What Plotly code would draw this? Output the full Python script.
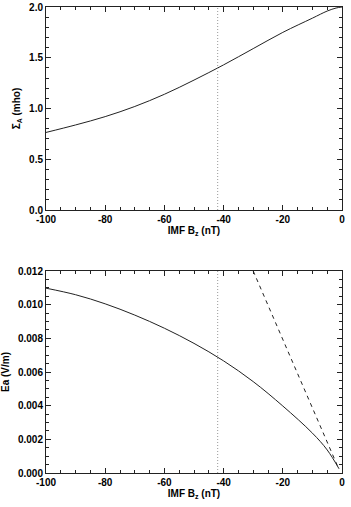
import plotly.graph_objects as go

# Data
bz = [-100, -90, -80, -70, -60, -50, -40, -30, -20, -10, -5, -2, 0]
sigma_a = [0.764, 0.838, 0.92, 1.02, 1.14, 1.28, 1.43, 1.59, 1.75, 1.89, 1.96, 1.99, 2.0]

bz_e = [-100, -90, -80, -70, -60, -50, -40, -30, -20, -10, -5, -1]
ea = [0.01098, 0.01059, 0.01005, 0.00938, 0.00860, 0.00770, 0.00666, 0.00543, 0.00398, 0.00237, 0.00137, 0.00025]

bz_dash = [-30, -20, -10, -1.2]
ea_dash = [0.01200, 0.00793, 0.00387, 0.00029]

bz_mark = -42

x_ticks = [-100, -80, -60, -40, -20, 0]
x_ticktext = ["-100", "-80", "-60", "-40", "-20", "0"]
y1_ticks = [0.0, 0.5, 1.0, 1.5, 2.0]
y1_ticktext = ["0.0", "0.5", "1.0", "1.5", "2.0"]
y2_ticks = [0.0, 0.002, 0.004, 0.006, 0.008, 0.010, 0.012]
y2_ticktext = ["0.000", "0.002", "0.004", "0.006", "0.008", "0.010", "0.012"]

BLACK = "#222222"
FAM = "Liberation Sans, Arial, sans-serif"
font_tick = dict(family=FAM, size=10, color="black")
title_font = dict(family=FAM, size=10, color="black")


def bold(lst):
    return ["<b>%s</b>" % s for s in lst]


fig = go.Figure()
fig.add_trace(go.Scatter(x=bz, y=sigma_a, mode="lines", line=dict(color=BLACK, width=1, shape="spline"),
                         xaxis="x", yaxis="y", showlegend=False))
fig.add_trace(go.Scatter(x=[bz_mark, bz_mark], y=[0, 2], mode="lines",
                         line=dict(color="#999999", width=1, dash="1px,2px"),
                         xaxis="x", yaxis="y", showlegend=False))
fig.add_trace(go.Scatter(x=bz_e, y=ea, mode="lines", line=dict(color=BLACK, width=1, shape="spline"),
                         xaxis="x2", yaxis="y2", showlegend=False))
fig.add_trace(go.Scatter(x=bz_dash, y=ea_dash, mode="lines", line=dict(color=BLACK, width=1, dash="4px,4px"),
                         xaxis="x2", yaxis="y2", showlegend=False))
fig.add_trace(go.Scatter(x=[bz_mark, bz_mark], y=[0, 0.012], mode="lines",
                         line=dict(color="#999999", width=1, dash="1px,2px"),
                         xaxis="x2", yaxis="y2", showlegend=False))

axis_common = dict(
    showline=True, linecolor=BLACK, linewidth=1, mirror="ticks",
    ticks="inside", ticklen=5, tickcolor=BLACK, tickwidth=1,
    showgrid=False, zeroline=False, tickfont=font_tick, automargin=False,
)

# plot areas in pixels: top y 7..210, bottom y 271..473, x 46..342
fig.update_layout(
    width=351, height=507,
    margin=dict(l=0, r=0, t=0, b=0),
    paper_bgcolor="white", plot_bgcolor="white",
    xaxis=dict(domain=[46 / 351, 342 / 351], anchor="y", range=[-100, 0],
               tickmode="array", tickvals=x_ticks, ticktext=bold(x_ticktext),
               minor=dict(dtick=5, tick0=0, ticks="inside", ticklen=3, tickcolor=BLACK),
               title=dict(text="<b>IMF B<sub>z</sub> (nT)</b>", font=title_font, standoff=2), **axis_common),
    yaxis=dict(domain=[1 - 210 / 507, 1 - 7 / 507], anchor="x", range=[0, 2],
               tickmode="array", tickvals=y1_ticks, ticktext=bold(y1_ticktext),
               minor=dict(dtick=0.1, tick0=0, ticks="inside", ticklen=3, tickcolor=BLACK),
               title=dict(text="<b>Σ<sub>A</sub> (mho)</b>", font=title_font, standoff=6), **axis_common),
    xaxis2=dict(domain=[46 / 351, 342 / 351], anchor="y2", range=[-100, 0],
                tickmode="array", tickvals=x_ticks, ticktext=bold(x_ticktext),
                minor=dict(dtick=5, tick0=0, ticks="inside", ticklen=3, tickcolor=BLACK),
                title=dict(text="<b>IMF B<sub>z</sub> (nT)</b>", font=title_font, standoff=2), **axis_common),
    yaxis2=dict(domain=[1 - 473 / 507, 1 - 271 / 507], anchor="x2", range=[0, 0.012],
                tickmode="array", tickvals=y2_ticks, ticktext=bold(y2_ticktext),
                minor=dict(dtick=0.0005, tick0=0, ticks="inside", ticklen=3, tickcolor=BLACK),
                title=dict(text="<b>Ea (V/m)</b>", font=title_font, standoff=6), **axis_common),
)

fig.write_html("out.html")
